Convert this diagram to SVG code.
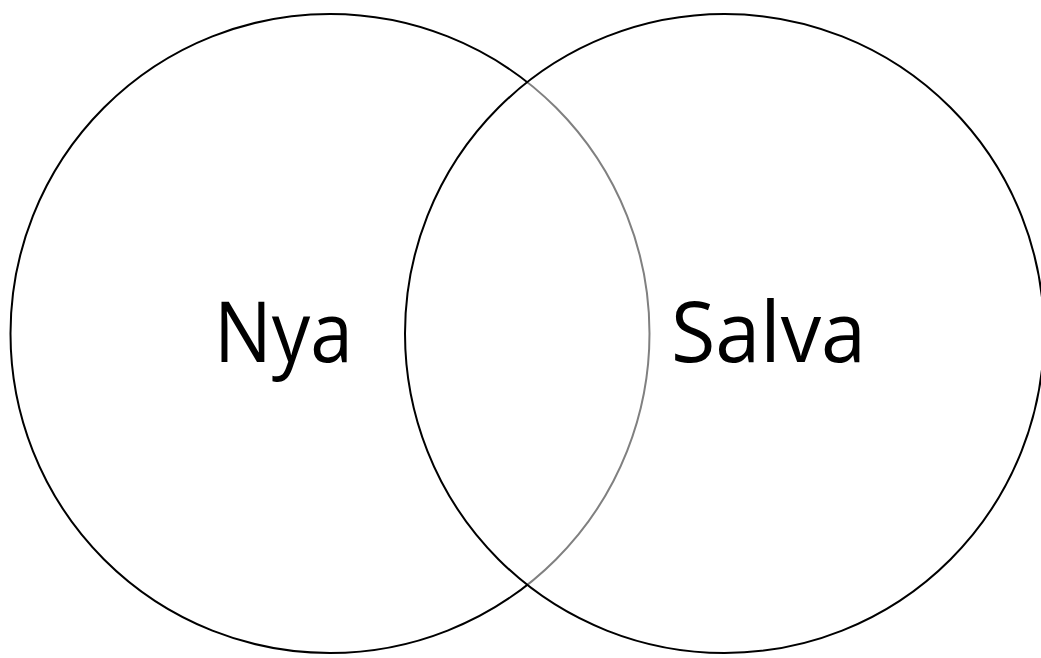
<svg xmlns="http://www.w3.org/2000/svg" width="1041" height="658" viewBox="0 0 1041 658">
<style>
.c{stroke:#000;stroke-width:2}
.t{font-family:"Open Sans","Liberation Sans",sans-serif;font-size:84px;fill:#000}
</style>
<rect width="1041" height="658" fill="#fff"/>
<g id="nya">
<circle class="c" cx="330" cy="333.5" r="319.5" fill="#fff"/>
<text class="t" x="214" y="362" textLength="139" lengthAdjust="spacingAndGlyphs">Nya</text>
</g>
<g id="salva">
<circle class="c" cx="724.5" cy="333.5" r="319.5" fill="#fff" fill-opacity="0.5"/>
<text class="t" x="671" y="362" textLength="195" lengthAdjust="spacingAndGlyphs">Salva</text>
</g>
<g id="connectors"/>
</svg>
